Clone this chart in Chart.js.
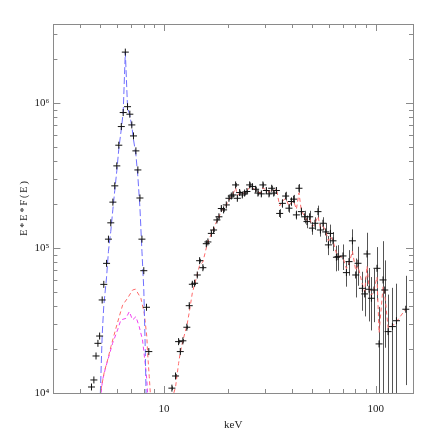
<!DOCTYPE html>
<html>
<head>
<meta charset="utf-8">
<script src="https://cdn.jsdelivr.net/npm/chart.js@4.4.1/dist/chart.umd.min.js"></script>
<style>
  html, body { margin: 0; padding: 0; background: #fff; }
</style>
</head>
<body>
<canvas id="spec" width="429" height="443"></canvas>
<script>
// Fe line region: measured points
const feE = [4.54, 4.66, 4.77, 4.87, 4.96, 5.10, 5.19, 5.35, 5.46, 5.60, 5.73, 5.85, 5.98, 6.11,
  6.28, 6.41, 6.56, 6.72, 6.89, 7.04, 7.17, 7.36, 7.52, 7.69, 7.86, 8.02, 8.26, 8.47];
const feFlux = [1.10e4, 1.23e4, 1.80e4, 2.20e4, 2.47e4, 4.38e4, 5.61e4, 7.83e4, 1.15e5, 1.49e5,
  2.07e5, 2.68e5, 3.68e5, 5.11e5, 6.87e5, 8.58e5, 2.24e6, 9.42e5, 8.36e5, 7.05e5, 5.92e5,
  4.67e5, 3.45e5, 2.21e5, 1.15e5, 6.97e4, 3.90e4, 1.93e4];

// line model (blue)
const lineModelE = [5.00, 5.10, 5.19, 5.35, 5.46, 5.60, 5.73, 5.85, 5.98, 6.11, 6.28, 6.41, 6.56,
  6.72, 6.89, 7.04, 7.17, 7.36, 7.52, 7.69, 7.86, 8.02, 8.15, 8.22];
const lineModel = [1.0e4, 2.5e4, 4.0e4, 6.3e4, 9.5e4, 1.3e5, 1.85e5, 2.5e5, 3.4e5, 4.8e5, 6.6e5,
  8.6e5, 2.24e6, 9.4e5, 8.2e5, 6.9e5, 5.6e5, 4.4e5, 3.1e5, 1.9e5, 9.5e4, 5.2e4, 2.0e4, 1.0e4];

// continuum humps under the line (red, magenta)
const humpRedE = [5.03, 5.22, 5.41, 5.61, 5.92, 6.14, 6.37, 6.72, 7.10, 7.33, 7.77, 8.06, 8.29,
  8.36, 8.51, 8.61];
const humpRed = [1.05e4, 1.40e4, 1.69e4, 2.09e4, 2.79e4, 3.36e4, 4.04e4, 4.50e4, 5.13e4, 5.2e4,
  4.50e4, 3.55e4, 2.44e4, 1.89e4, 1.30e4, 1.0e4];
const humpMagE = [5.0, 5.12, 5.31, 5.51, 5.71, 6.03, 6.25, 6.60, 6.85, 7.10, 7.36, 7.63, 7.91,
  8.11, 8.29, 8.36];
const humpMag = [0.9e4, 1.23e4, 1.52e4, 1.83e4, 2.20e4, 2.72e4, 3.19e4, 3.27e4, 3.64e4, 3.19e4,
  3.36e4, 2.87e4, 2.32e4, 1.69e4, 1.23e4, 1.0e4];

// hard continuum: points, relative errors, model (red)
const contE = [10.89, 11.33, 11.71, 11.93, 12.27, 12.81, 13.15, 13.60, 13.94, 14.35, 14.72, 15.25,
  15.83, 16.11, 16.72, 17.14, 17.77, 18.16, 18.64, 19.11, 19.68, 20.25, 20.78, 21.15, 21.78,
  22.19, 22.75, 23.42, 24.02, 24.63, 25.37, 26.12, 27.07, 27.76, 28.8, 29.3, 30.42, 31.3, 32.24,
  32.95, 33.93, 35.17, 36.22, 37.54, 38.91, 39.93, 40.95, 42.18, 43.39, 44.53, 46.15, 47.33,
  48.73, 50.19, 51.64, 53.36, 54.77, 56.34, 58.02, 59.76, 61.07, 62.83, 65.2, 66.33, 70.04,
  72.69, 74.78, 77.6, 80.44, 82.48, 86.5, 88.7, 90.96, 92.96, 95.43, 98.17, 101.4, 103.7,
  108.3, 110.3, 114.4, 119.9, 125.3, 138.7];
const contFlux = [1.08e4, 1.31e4, 2.26e4, 1.93e4, 2.29e4, 2.84e4, 4.00e4, 5.62e4, 5.71e4, 6.51e4,
  8.17e4, 7.31e4, 1.07e5, 1.10e5, 1.26e5, 1.33e5, 1.56e5, 1.64e5, 1.87e5, 1.83e5, 1.98e5,
  2.20e5, 2.28e5, 2.32e5, 2.72e5, 2.20e5, 2.41e5, 2.32e5, 2.39e5, 2.45e5, 2.72e5, 2.65e5,
  2.54e5, 2.39e5, 2.36e5, 2.72e5, 2.49e5, 2.36e5, 2.58e5, 2.39e5, 2.49e5, 1.73e5, 2.03e5,
  2.28e5, 1.88e5, 2.09e5, 2.17e5, 1.69e5, 2.58e5, 1.78e5, 1.64e5, 1.52e5, 1.64e5, 1.37e5,
  1.48e5, 1.78e5, 1.33e5, 1.48e5, 1.29e5, 1.05e5, 1.26e5, 1.12e5, 8.63e4, 8.71e4, 8.81e4,
  6.76e4, 8.05e4, 1.12e5, 6.51e4, 7.84e4, 5.27e4, 4.82e4, 9.09e4, 5.19e4, 4.50e4, 5.13e4,
  7.24e4, 2.18e4, 6.02e4, 5.13e4, 2.65e4, 2.87e4, 3.15e4, 3.78e4];
const contRelErr = [0.03, 0.03, 0.03, 0.03, 0.03, 0.03, 0.03, 0.03, 0.03, 0.03, 0.03, 0.03, 0.03,
  0.03, 0.03, 0.03, 0.03, 0.03, 0.03, 0.03, 0.03, 0.03, 0.03, 0.03, 0.03, 0.03, 0.03, 0.03,
  0.03, 0.03, 0.04, 0.04, 0.04, 0.04, 0.04, 0.04, 0.04, 0.04, 0.04, 0.04, 0.05, 0.07, 0.07,
  0.07, 0.07, 0.07, 0.07, 0.07, 0.07, 0.07, 0.1, 0.1, 0.1, 0.1, 0.1, 0.1, 0.1, 0.1, 0.15,
  0.15, 0.15, 0.15, 0.2, 0.2, 0.2, 0.2, 0.2, 0.2, 0.3, 0.3, 0.3, 0.3, 0.4, 0.4, 0.4, 0.4, 0.4,
  0.8, 0.85, 0.6, 0.8, 0.85, 0.8, 0.7];
const contModel = [0.9e4, 1.1e4, 1.6e4, 1.9e4, 2.3e4, 2.9e4, 3.6e4, 4.9e4, 5.6e4, 6.6e4, 7.6e4,
  8.0e4, 1.0e5, 1.1e5, 1.25e5, 1.36e5, 1.54e5, 1.63e5, 1.8e5, 1.86e5, 1.98e5, 2.15e5, 2.25e5,
  2.35e5, 2.6e5, 2.3e5, 2.4e5, 2.35e5, 2.42e5, 2.48e5, 2.62e5, 2.6e5, 2.5e5, 2.42e5, 2.4e5,
  2.6e5, 2.5e5, 2.42e5, 2.52e5, 2.45e5, 2.55e5, 1.95e5, 2.1e5, 2.2e5, 1.95e5, 2.05e5, 2.1e5,
  1.85e5, 2.4e5, 1.8e5, 1.65e5, 1.55e5, 1.6e5, 1.4e5, 1.48e5, 1.65e5, 1.38e5, 1.42e5, 1.3e5,
  1.12e5, 1.2e5, 1.12e5, 9.2e4, 8.8e4, 8.6e4, 7.2e4, 7.8e4, 9.5e4, 7.0e4, 7.5e4, 5.6e4, 5.0e4,
  7.5e4, 5.4e4, 4.7e4, 5.2e4, 6.3e4, 2.6e4, 5.4e4, 4.8e4, 2.8e4, 2.9e4, 3.1e4, 3.8e4];

const xTickVals = [10, 100];
const yTickVals = [1e4, 1e5, 1e6];
const supers = { 4: "\u2074", 5: "\u2075", 6: "\u2076" };

const pts = (xs, ys) => xs.map((x, i) => ({ x, y: ys[i] }));
const serif = { family: "'Liberation Serif', 'DejaVu Serif', serif", size: 11 };
const axisGrey = "#8a8a8a";

// vertical error bars for points that carry relErr
const errorBars = {
  id: "errorBars",
  beforeDatasetsDraw(chart) {
    const { ctx, chartArea, scales } = chart;
    ctx.save();
    ctx.beginPath();
    ctx.rect(chartArea.left, chartArea.top, chartArea.right - chartArea.left, chartArea.bottom - chartArea.top);
    ctx.clip();
    ctx.strokeStyle = "#555";
    ctx.lineWidth = 1;
    chart.data.datasets.forEach(ds => {
      if (!ds.relErr) return;
      ds.data.forEach((p, i) => {
        const s = ds.relErr[i];
        const px = Math.round(scales.x.getPixelForValue(p.x)) + 0.5;
        const lo = p.y * (1 - s);
        const yTop = scales.y.getPixelForValue(p.y * (1 + s));
        const yBot = lo > 0 ? scales.y.getPixelForValue(lo) : chartArea.bottom + 5;
        ctx.beginPath();
        ctx.moveTo(px, yTop);
        ctx.lineTo(px, yBot);
        ctx.stroke();
      });
    });
    ctx.restore();
  }
};

// box round the plot with inward ticks on all four sides
const frame = {
  id: "frame",
  afterDraw(chart) {
    const { ctx, chartArea: a, scales } = chart;
    ctx.save();
    ctx.strokeStyle = axisGrey;
    ctx.lineWidth = 1;
    ctx.strokeRect(Math.round(a.left) + 0.5, Math.round(a.top) + 0.5,
      Math.round(a.right - a.left), Math.round(a.bottom - a.top));
    ctx.beginPath();
    for (let e = 0; e <= 2; e++) {
      for (let m = 1; m <= 9; m++) {
        const v = m * Math.pow(10, e);
        if (v <= scales.x.min || v >= scales.x.max) continue;
        const px = Math.round(scales.x.getPixelForValue(v)) + 0.5;
        const len = m === 1 ? 7 : 4;
        ctx.moveTo(px, a.bottom); ctx.lineTo(px, a.bottom - len);
        ctx.moveTo(px, a.top); ctx.lineTo(px, a.top + len);
      }
    }
    for (let e = 4; e <= 6; e++) {
      for (let m = 1; m <= 9; m++) {
        const v = m * Math.pow(10, e);
        if (v < scales.y.min || v >= scales.y.max) continue;
        const py = Math.round(scales.y.getPixelForValue(v)) + 0.5;
        const len = m === 1 ? 7 : 4;
        ctx.moveTo(a.left, py); ctx.lineTo(a.left + len, py);
        ctx.moveTo(a.right, py); ctx.lineTo(a.right - len, py);
      }
    }
    ctx.stroke();
    ctx.restore();
  }
};

new Chart(document.getElementById("spec"), {
  type: "scatter",
  data: {
    datasets: [
      {
        data: pts(feE, feFlux),
        pointStyle: "cross", pointRadius: 3.5, borderColor: "#111", borderWidth: 1
      },
      {
        data: pts(contE, contFlux), relErr: contRelErr,
        pointStyle: "cross", pointRadius: 3.5, borderColor: "#111", borderWidth: 1
      },
      {
        data: pts(lineModelE, lineModel), showLine: true, pointRadius: 0,
        borderColor: "#6f6fff", borderWidth: 1, borderDash: [7, 3]
      },
      {
        data: pts(humpRedE, humpRed), showLine: true, pointRadius: 0,
        borderColor: "#ff6a6a", borderWidth: 1, borderDash: [4, 3]
      },
      {
        data: pts(humpMagE, humpMag), showLine: true, pointRadius: 0,
        borderColor: "#f040f0", borderWidth: 1, borderDash: [4, 3]
      },
      {
        data: pts(contE, contModel), showLine: true, pointRadius: 0,
        borderColor: "#ff6a6a", borderWidth: 1, borderDash: [4, 3]
      }
    ]
  },
  options: {
    responsive: false,
    animation: false,
    layout: { padding: { left: 14.4, top: 24, right: 16, bottom: 0 } },
    plugins: { legend: { display: false }, tooltip: { enabled: false } },
    scales: {
      x: {
        type: "logarithmic", min: 3, max: 150,
        grid: { display: false, drawTicks: false }, border: { display: false },
        afterBuildTicks: s => { s.ticks = xTickVals.map(v => ({ value: v })); },
        afterFit: s => { s.height = 50; },
        ticks: { font: serif, color: "#222", padding: 10, maxRotation: 0, callback: v => String(v) },
        title: { display: true, text: "keV", font: serif, color: "#222", padding: { top: 0, bottom: 11 } }
      },
      y: {
        type: "logarithmic", min: 1e4, max: 3.5e6,
        grid: { display: false, drawTicks: false }, border: { display: false },
        afterBuildTicks: s => { s.ticks = yTickVals.map(v => ({ value: v })); },
        afterFit: s => { s.width = 39; },
        ticks: {
          font: serif, color: "#222", padding: 4,
          callback: v => "10" + supers[Math.round(Math.log10(v))]
        },
        title: { display: true, text: "E\u2009*\u2009E\u2009*\u2009F\u2009(\u2009E\u2009)", font: { ...serif, size: 10 }, color: "#222", padding: { top: 4, bottom: 0 } }
      }
    }
  },
  plugins: [errorBars, frame]
});
</script>
</body>
</html>
